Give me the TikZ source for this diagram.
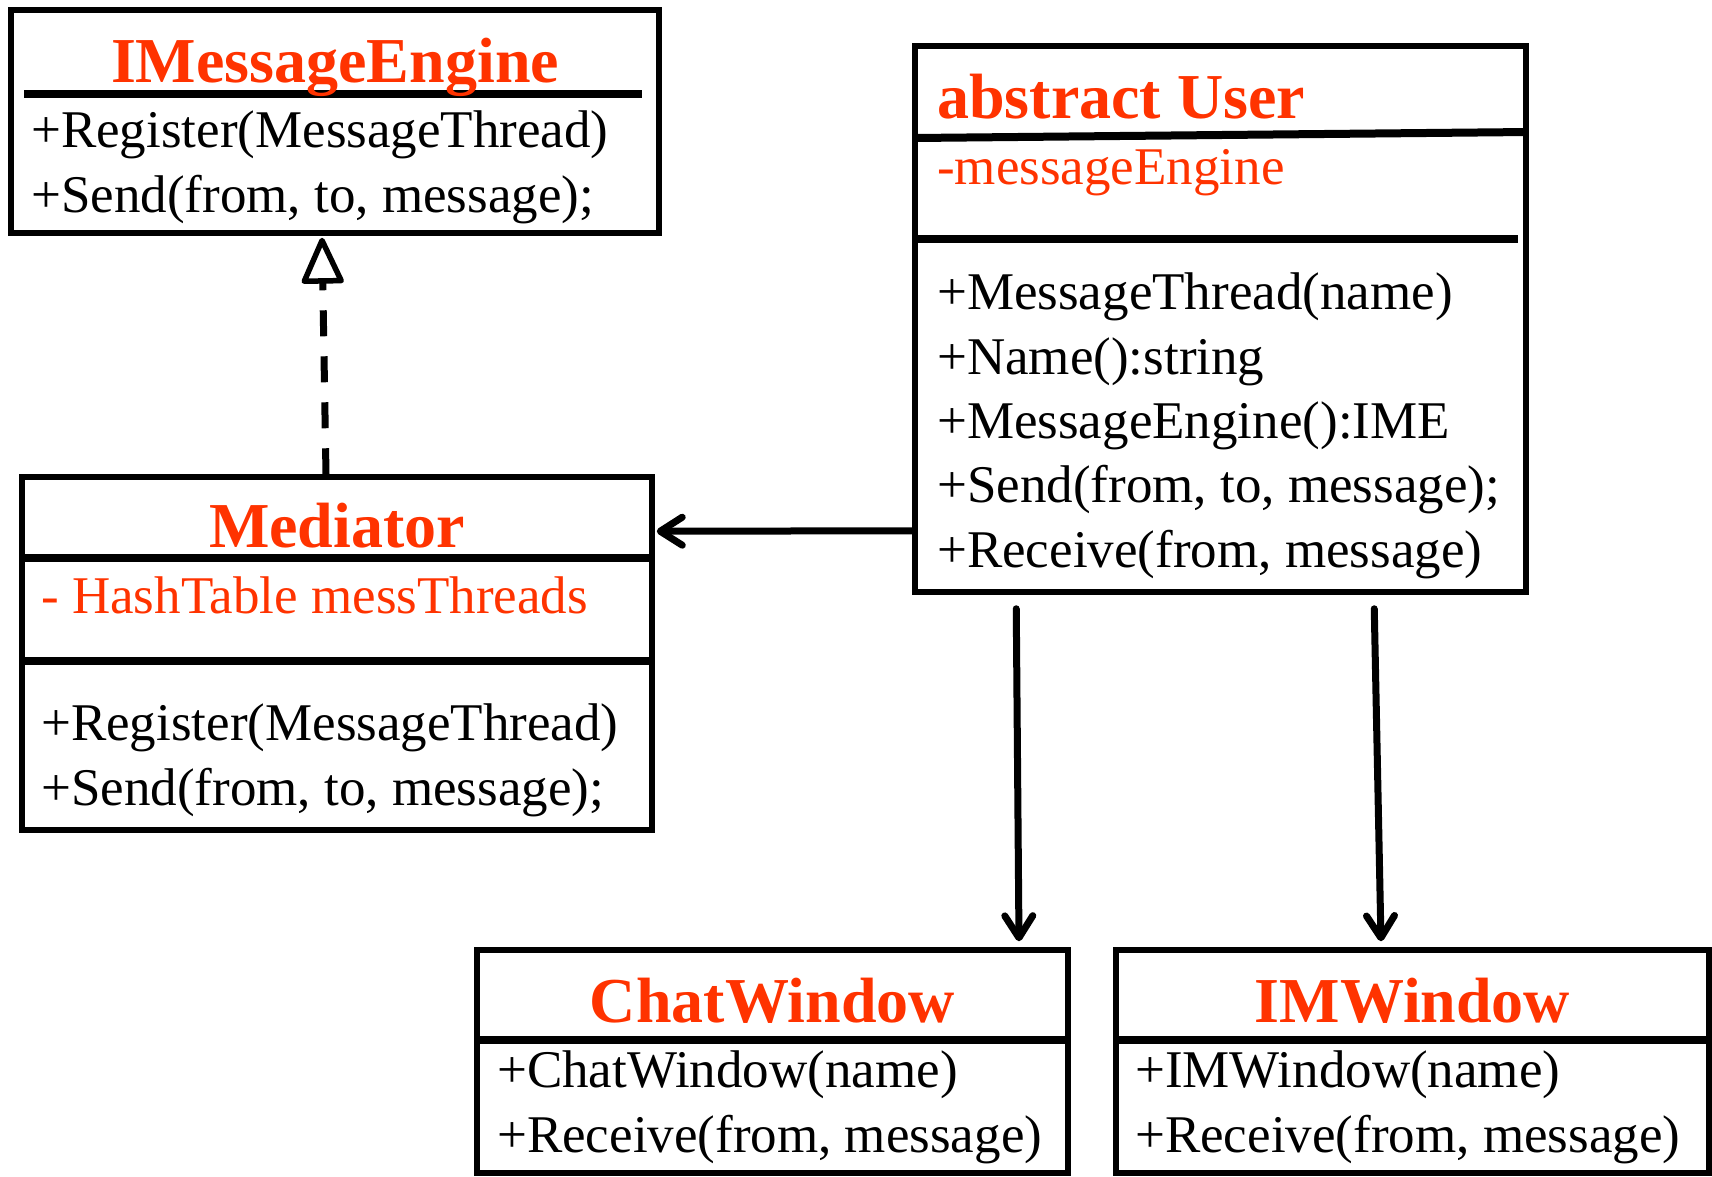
\documentclass[tikz,border=0pt]{standalone}
\usepackage{fontspec}
\setmainfont{Liberation Serif}
\usetikzlibrary{arrows.meta}
\definecolor{umlred}{RGB}{255,51,0}
\begin{document}
\begin{tikzpicture}[x=1pt,y=-1pt,
  classbox/.style={draw, line width=5.5pt, inner sep=0pt, rectangle},
  rule/.style={line width=8pt},
  member/.style={anchor=base west, inner sep=0pt, font=\fontsize{53}{60}\selectfont},
  field/.style={member, text=umlred},
  title/.style={anchor=base, inner sep=0pt, font=\fontsize{64}{70}\selectfont\bfseries, text=umlred},
  assoc/.style={line width=7pt, line cap=round,
    -{Straight Barb[length=22pt,width=28pt,line width=7pt,round]}},
  realize/.style={line width=7pt, dash pattern=on 26pt off 20pt,
    -{Triangle[open,length=50pt,width=44pt,line width=5.5pt,round]}}
]
\useasboundingbox (0,0) rectangle (1712,1176);

% class boxes
\node[classbox, minimum width=648pt, minimum height=223pt] (ime)  at (335,121.5) {};
\node[classbox, minimum width=611pt, minimum height=546pt] (user) at (1220.5,319) {};
\node[classbox, minimum width=630pt, minimum height=353pt] (med)  at (337,653.5) {};
\node[classbox, minimum width=591pt, minimum height=223pt] (chat) at (772.5,1061.5) {};
\node[classbox, minimum width=593pt, minimum height=223pt] (imw)  at (1412.5,1061.5) {};

% compartment rules
\draw[rule] (24,94) -- (642,94);
\draw[rule] (915,138) -- (1528,132);
\draw[rule] (915,239) -- (1518,239);
\draw[rule] (22,558) -- (652,558);
\draw[rule] (22,661) -- (652,661);
\draw[rule] (477,1040) -- (1068,1040);
\draw[rule] (1116,1040) -- (1709,1040);

% IMessageEngine
\node[title]  (imeT)  at (335,82)  {IMessageEngine};
\node[member] (imeM1) at (31,147)  {+Register(MessageThread)};
\node[member] (imeM2) at (31,212)  {+Send(from, to, message);};

% abstract User
\node[title, anchor=base west] (userT) at (937,118) {abstract User};
\node[field]  (userF)  at (937,184)   {-messageEngine};
\node[member] (userM1) at (937,309.5) {+MessageThread(name)};
\node[member] (userM2) at (937,374)   {+Name():string};
\node[member] (userM3) at (937,438)   {+MessageEngine():IME};
\node[member] (userM4) at (937,502.5) {+Send(from, to, message);};
\node[member] (userM5) at (937,567)   {+Receive(from, message)};

% Mediator
\node[title]  (medT)  at (337,547) {Mediator};
\node[field]  (medF)  at (41,613)  {- HashTable messThreads};
\node[member] (medM1) at (41,740)  {+Register(MessageThread)};
\node[member] (medM2) at (41,805)  {+Send(from, to, message);};

% ChatWindow
\node[title]  (chatT)  at (772.5,1022) {ChatWindow};
\node[member] (chatM1) at (497,1087)   {+ChatWindow(name)};
\node[member] (chatM2) at (497,1152)   {+Receive(from, message)};

% IMWindow
\node[title]  (imwT)  at (1412.5,1022) {IMWindow};
\node[member] (imwM1) at (1135,1087)   {+IMWindow(name)};
\node[member] (imwM2) at (1135,1152)   {+Receive(from, message)};

% relations
\draw[realize] ([xshift=-11pt]med.north) -- ([xshift=-13pt,yshift=-2pt]ime.south);
\draw[assoc] ([yshift=64pt]user.south west) -- ([xshift=2pt,yshift=-57pt]med.north east);
\draw[assoc] ([xshift=104pt,yshift=-14pt]user.south west) -- ([xshift=246.5pt,yshift=6pt]chat.north);
\draw[assoc] ([xshift=462pt,yshift=-14pt]user.south west) -- ([xshift=-31.5pt,yshift=6pt]imw.north);
\end{tikzpicture}
\end{document}
